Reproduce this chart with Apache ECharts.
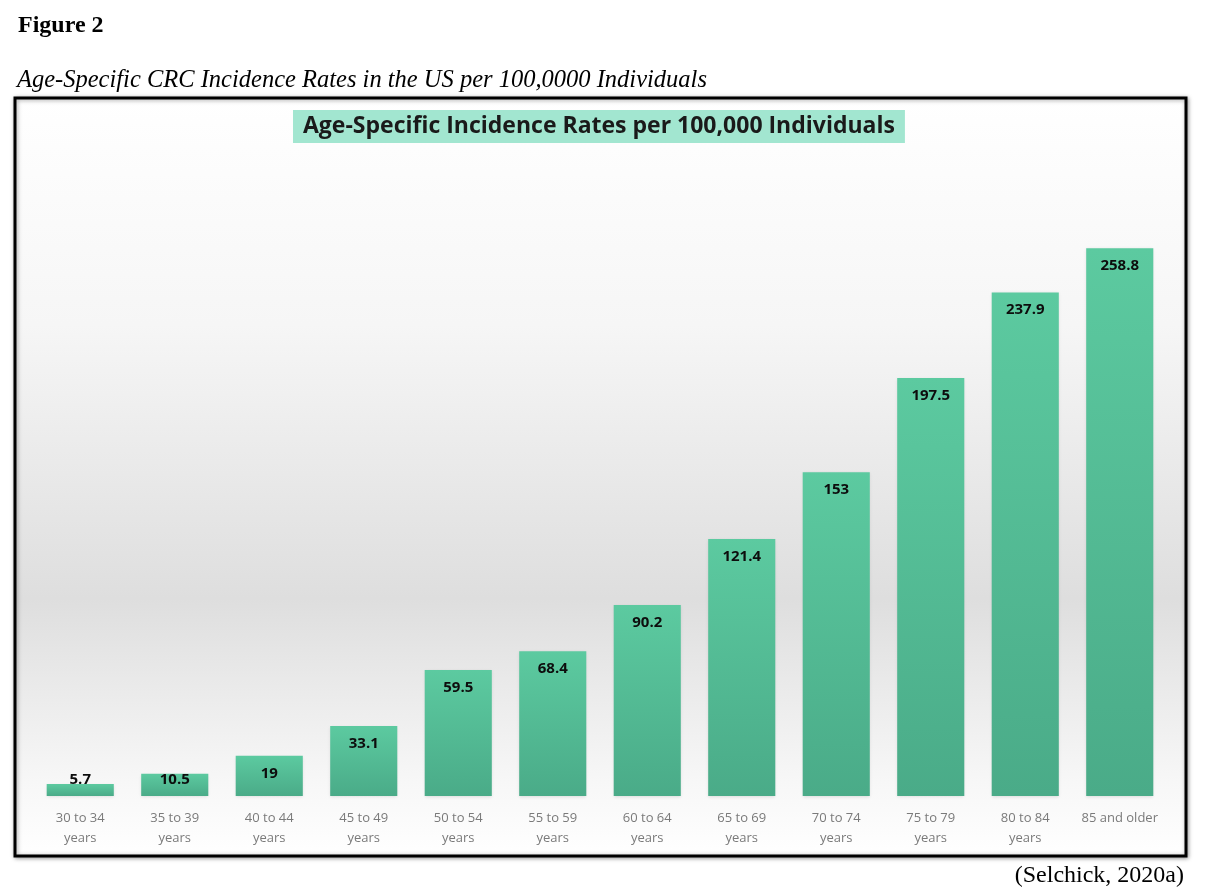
<!DOCTYPE html>
<html lang="en">
<head>
    <meta charset="UTF-8">
    <title>Figure 2</title>
    <script src="https://cdn.jsdelivr.net/npm/echarts@6/dist/echarts.min.js"></script>
    <style>
        html, body { margin: 0; padding: 0; background: #fff; }
        #main { width: 1222px; height: 892px; }
    </style>
</head>
<body>
    <div id="main"></div>
<script>
// age groups and incidence rates (per 100,000)
var ageGroups = ['30 to 34\nyears', '35 to 39\nyears', '40 to 44\nyears', '45 to 49\nyears',
    '50 to 54\nyears', '55 to 59\nyears', '60 to 64\nyears', '65 to 69\nyears',
    '70 to 74\nyears', '75 to 79\nyears', '80 to 84\nyears', '85 and older'];
var rates = [5.7, 10.5, 19, 33.1, 59.5, 68.4, 90.2, 121.4, 153, 197.5, 237.9, 258.8];

var chart = echarts.init(document.getElementById('main'));

// very short bars: label is pinned just above the baseline, like excel does
var barData = rates.map(function (v) {
    if (v < 15) {
        return { value: v, label: { position: 'insideBottom', distance: 9 } };
    }
    return v;
});

var option = {
    backgroundColor: '#fff',
    animation: false,
    title: [{
        text: 'Age-Specific Incidence Rates per 100,000 Individuals',
        left: 293,
        top: 110,
        padding: [5, 10, 5, 10],
        backgroundColor: '#a2e6d0',
        textStyle: { fontFamily: 'Open Sans', fontWeight: 'bold', fontSize: 23, color: '#1a1a1a' }
    }],
    graphic: [
        // chart frame with grey band background
        {
            type: 'rect', z: -10,
            shape: { x: 15, y: 98, width: 1171, height: 758 },
            style: {
                fill: new echarts.graphic.LinearGradient(0, 0, 0, 1, [
                    { offset: 0, color: '#ffffff' },
                    { offset: 0.3, color: '#f6f6f6' },
                    { offset: 0.66, color: '#dedede' },
                    { offset: 0.9, color: '#f7f7f7' },
                    { offset: 1, color: '#ffffff' }
                ]),
                stroke: '#000', lineWidth: 3,
                shadowColor: 'rgba(0,0,0,0.35)', shadowBlur: 4, shadowOffsetX: 1, shadowOffsetY: 1
            }
        },
        {
            type: 'text', left: 18, top: 14,
            style: { text: 'Figure 2', font: 'bold 24px "Liberation Serif"', fill: '#000' }
        },
        {
            type: 'text', left: 17, top: 68,
            style: { text: 'Age-Specific CRC Incidence Rates in the US per 100,0000 Individuals', font: 'italic 24.5px "Liberation Serif"', fill: '#000' }
        },
        {
            type: 'text', right: 38, top: 864,
            style: { text: '(Selchick, 2020a)', font: '24px "Liberation Serif"', fill: '#000' }
        }
    ],
    grid: { left: 33, right: 55, top: 161, bottom: 96, containLabel: false },
    xAxis: {
        type: 'category',
        data: ageGroups,
        axisLine: { show: false },
        axisTick: { show: false },
        axisLabel: {
            color: '#7a7a7a', fontFamily: 'Open Sans', fontSize: 13,
            lineHeight: 20, margin: 12, interval: 0
        }
    },
    yAxis: {
        type: 'value',
        min: 0, max: 300,
        show: false,
        splitLine: { show: false }
    },
    series: [{
        type: 'bar',
        data: barData,
        barCategoryGap: '29%',
        itemStyle: {
            color: new echarts.graphic.LinearGradient(0, 0, 0, 1, [
                { offset: 0, color: '#5ccaa0' },
                { offset: 1, color: '#4aab88' }
            ]),
            shadowColor: 'rgba(0,0,0,0.12)', shadowBlur: 3, shadowOffsetY: 1
        },
        label: {
            show: true,
            position: 'insideTop',
            distance: 10,
            color: '#0d0d0d',
            fontFamily: 'Open Sans',
            fontWeight: 'bold',
            fontSize: 15
        }
    }]
};

chart.setOption(option);
</script>
</body>
</html>
